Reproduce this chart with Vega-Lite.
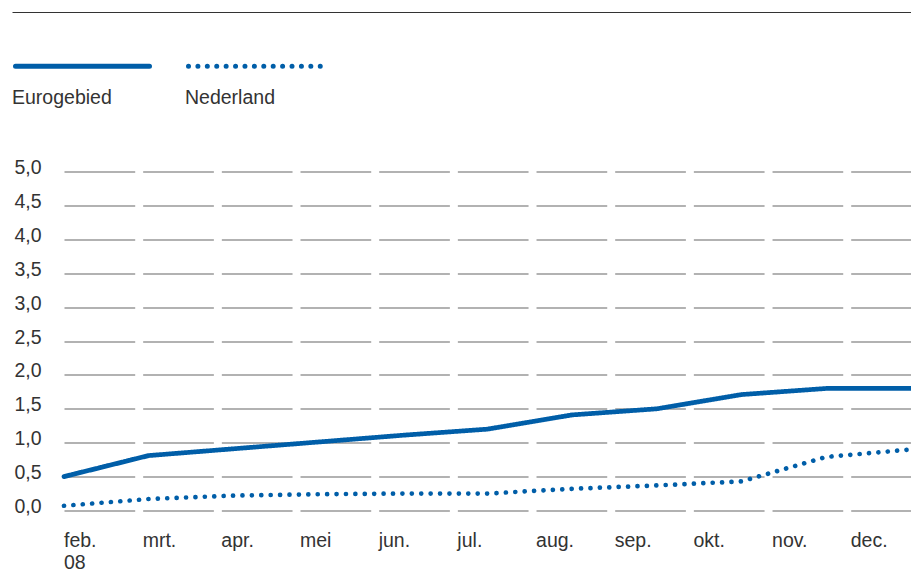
{
  "$schema": "https://vega.github.io/schema/vega-lite/v6.json",
  "width": 847,
  "height": 339,
  "autosize": {"type": "none"},
  "padding": {"left": 64, "top": 171.5, "right": 0, "bottom": 72.5},
  "background": "white",
  "config": {
    "view": {"stroke": null},
    "font": "Liberation Sans",
    "axis": {"labelFont": "Liberation Sans", "labelColor": "#333333", "labelFontSize": 19.5},
    "legend": {"labelFont": "Liberation Sans"}
  },
  "datasets": {
    "reeksen": [
      {"maand": "feb.", "reeks": "Eurogebied", "waarde": 0.5},
      {"maand": "mrt.", "reeks": "Eurogebied", "waarde": 0.81},
      {"maand": "apr.", "reeks": "Eurogebied", "waarde": 0.91},
      {"maand": "mei", "reeks": "Eurogebied", "waarde": 1.01},
      {"maand": "jun.", "reeks": "Eurogebied", "waarde": 1.11},
      {"maand": "jul.", "reeks": "Eurogebied", "waarde": 1.2},
      {"maand": "aug.", "reeks": "Eurogebied", "waarde": 1.41},
      {"maand": "sep.", "reeks": "Eurogebied", "waarde": 1.5},
      {"maand": "okt.", "reeks": "Eurogebied", "waarde": 1.71},
      {"maand": "nov.", "reeks": "Eurogebied", "waarde": 1.8},
      {"maand": "dec.", "reeks": "Eurogebied", "waarde": 1.8},
      {"maand": "feb.", "reeks": "Nederland", "waarde": 0.07},
      {"maand": "mrt.", "reeks": "Nederland", "waarde": 0.17},
      {"maand": "apr.", "reeks": "Nederland", "waarde": 0.22},
      {"maand": "mei", "reeks": "Nederland", "waarde": 0.24},
      {"maand": "jun.", "reeks": "Nederland", "waarde": 0.25},
      {"maand": "jul.", "reeks": "Nederland", "waarde": 0.25},
      {"maand": "aug.", "reeks": "Nederland", "waarde": 0.32},
      {"maand": "sep.", "reeks": "Nederland", "waarde": 0.37},
      {"maand": "okt.", "reeks": "Nederland", "waarde": 0.43},
      {"maand": "nov.", "reeks": "Nederland", "waarde": 0.79},
      {"maand": "dec.", "reeks": "Nederland", "waarde": 0.9}
    ],
    "maanden": [
      {"maand": "feb."}, {"maand": "mrt."}, {"maand": "apr."}, {"maand": "mei"},
      {"maand": "jun."}, {"maand": "jul."}, {"maand": "aug."}, {"maand": "sep."},
      {"maand": "okt."}, {"maand": "nov."}, {"maand": "dec."}
    ]
  },
  "layer": [
    {
      "data": {"name": "reeksen"},
      "mark": {"type": "line", "color": "#005ea8", "strokeWidth": 4.7, "strokeCap": "round", "strokeJoin": "round"},
      "encoding": {
        "x": {
          "field": "maand", "type": "nominal",
          "sort": ["feb.", "mrt.", "apr.", "mei", "jun.", "jul.", "aug.", "sep.", "okt.", "nov.", "dec."],
          "scale": {"type": "point", "padding": 0},
          "axis": null
        },
        "y": {
          "field": "waarde", "type": "quantitative",
          "scale": {"domain": [0, 5], "nice": false, "zero": true},
          "axis": {
            "title": null,
            "values": [0, 0.5, 1, 1.5, 2, 2.5, 3, 3.5, 4, 4.5, 5],
            "labelExpr": "replace(format(datum.value, '.1f'), '.', ',')",
            "domain": false,
            "ticks": false,
            "tickSize": 0,
            "labelPadding": 50,
            "labelAlign": "left",
            "labelBaseline": "alphabetic",
            "labelOffset": 2,
            "grid": true,
            "gridColor": "#999999",
            "gridWidth": 1.4,
            "gridDash": [70.7, 7.97]
          }
        },
        "strokeDash": {
          "field": "reeks", "type": "nominal",
          "scale": {"domain": ["Eurogebied", "Nederland"], "range": [[1, 0], [0.01, 9.4]]},
          "legend": {
            "title": null,
            "orient": "none",
            "direction": "horizontal",
            "legendX": -51,
            "legendY": -174.7,
            "symbolType": "stroke",
            "symbolSize": 17956,
            "symbolStrokeWidth": 5,
            "symbolStrokeColor": "#005ea8",
            "labelFontSize": 19.5,
            "labelColor": "#333333",
            "labelOffset": -140,
            "labelBaseline": "alphabetic",
            "columnPadding": 18,
            "encode": {
              "symbols": {"update": {"strokeCap": {"value": "round"}}},
              "labels": {"update": {"dy": {"value": 38}}}
            }
          }
        }
      }
    },
    {
      "data": {"name": "maanden"},
      "mark": {"type": "tick", "opacity": 0},
      "encoding": {
        "x": {
          "field": "maand", "type": "nominal",
          "sort": ["feb.", "mrt.", "apr.", "mei", "jun.", "jul.", "aug.", "sep.", "okt.", "nov.", "dec."],
          "scale": {"type": "band", "range": [0, 865.4], "paddingInner": 0, "paddingOuter": 0},
          "axis": {
            "title": null,
            "orient": "bottom",
            "domain": false,
            "ticks": false,
            "tickSize": 0,
            "grid": false,
            "labelAlign": "left",
            "labelBaseline": "alphabetic",
            "labelPadding": 36,
            "labelOffset": -39.33,
            "labelLineHeight": 22,
            "labelAngle": 0,
            "labelBound": false,
            "labelOverlap": false,
            "labelExpr": "datum.value == 'feb.' ? ['feb.', '08'] : datum.value"
          }
        }
      }
    },
    {
      "data": {"name": "maanden"},
      "mark": {"type": "tick", "opacity": 0},
      "encoding": {
        "x": {
          "field": "maand", "type": "nominal",
          "sort": ["feb.", "mrt.", "apr.", "mei", "jun.", "jul.", "aug.", "sep.", "okt.", "nov.", "dec."],
          "scale": {"type": "point", "range": [-52, 847], "padding": 0},
          "axis": {
            "title": null,
            "orient": "top",
            "offset": 159.5,
            "domain": true,
            "domainColor": "#333333",
            "domainWidth": 1,
            "ticks": false,
            "labels": false,
            "grid": false
          }
        }
      }
    }
  ],
  "resolve": {"scale": {"x": "independent"}}
}
